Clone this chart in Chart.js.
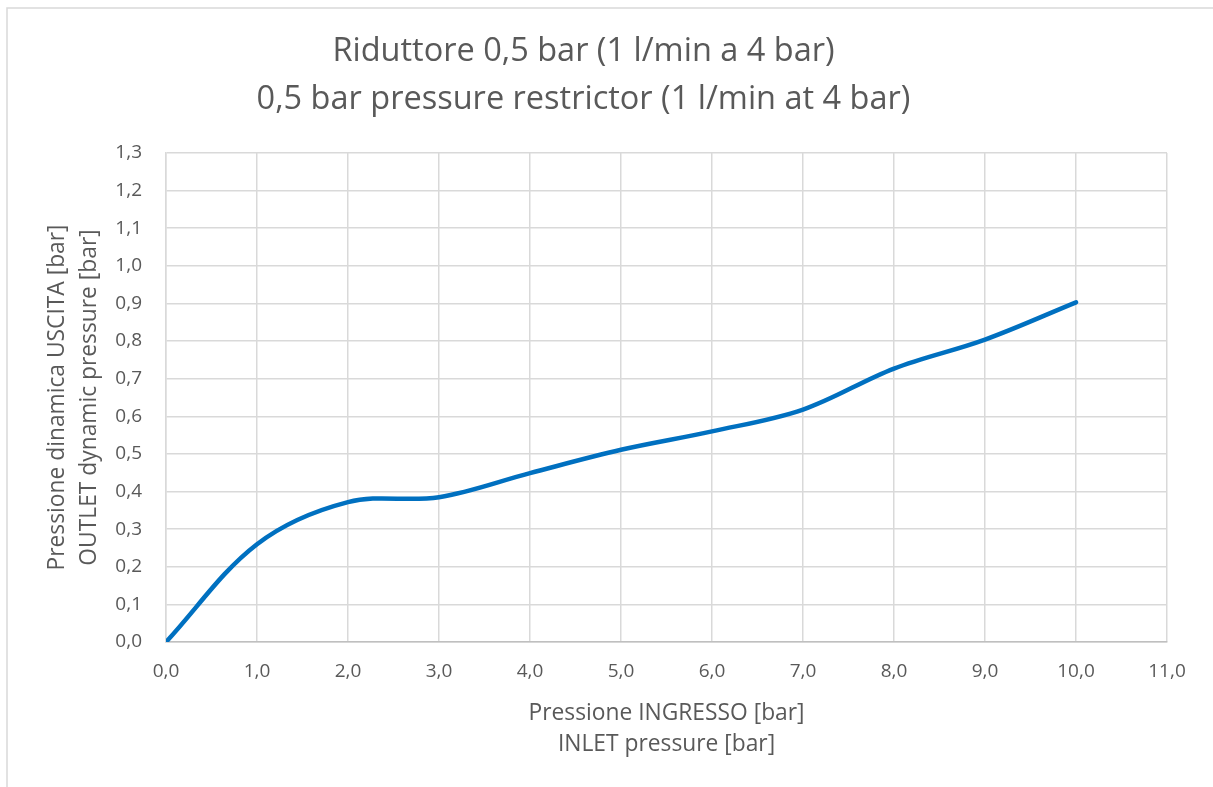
<!DOCTYPE html>
<html>
<head>
<meta charset="utf-8">
<script src="https://cdn.jsdelivr.net/npm/chart.js@4"></script>
<style>
  html, body { margin: 0; padding: 0; background: #fff; }
  #wrap { width: 1213px; height: 787px; position: relative; }
</style>
</head>
<body>
<div id="wrap"><canvas id="c" width="1213" height="787"></canvas></div>
<script>
// ---- data ----
const inletPressure = [0, 1, 2, 3, 4, 5, 6, 7, 8, 9, 10];
const outletPressure = [0, 0.26, 0.372, 0.385, 0.449, 0.511, 0.56, 0.618, 0.727, 0.804, 0.903];
const titleLines = ['Riduttore 0,5 bar (1 l/min a 4 bar)', '0,5 bar pressure restrictor (1 l/min at 4 bar)'];
const xTitleLines = ['Pressione INGRESSO [bar]', 'INLET pressure [bar]'];
const yTitleLines = ['Pressione dinamica USCITA [bar]', 'OUTLET dynamic pressure [bar]'];
const xTickLabels = ['0,0','1,0','2,0','3,0','4,0','5,0','6,0','7,0','8,0','9,0','10,0','11,0'];
const yTickLabels = ['0,0','0,1','0,2','0,3','0,4','0,5','0,6','0,7','0,8','0,9','1,0','1,1','1,2','1,3'];

const FONT = '"Open Sans", Lato, sans-serif';
const GRAY = '#595959';

const frame = {
  id: 'frame',
  beforeDraw(chart) {
    const ctx = chart.ctx;
    ctx.save();
    ctx.fillStyle = '#fff';
    ctx.fillRect(0, 0, chart.width, chart.height);
    ctx.strokeStyle = '#d9d9d9';
    ctx.lineWidth = 1.5;
    ctx.strokeRect(7, 8, 1400, 1000);
    ctx.restore();
  }
};

new Chart(document.getElementById('c'), {
  type: 'line',
  data: {
    datasets: [{
      data: inletPressure.map((x, i) => ({ x: x, y: outletPressure[i] })),
      borderColor: '#0070C0',
      borderWidth: 4.5,
      borderCapStyle: 'round',
      borderJoinStyle: 'round',
      pointRadius: 0,
      tension: 0.35,
      fill: false
    }]
  },
  options: {
    responsive: false,
    animation: false,
    devicePixelRatio: 1,
    layout: { padding: { left: 0, right: 46, top: 0, bottom: 0 } },
    plugins: {
      legend: { display: false },
      tooltip: { enabled: false },
      title: {
        display: true,
        text: titleLines,
        color: GRAY,
        font: { family: FONT, size: 32.5, weight: 'normal', lineHeight: 1.477 },
        padding: { top: 28, bottom: 29 }
      }
    },
    scales: {
      x: {
        type: 'linear',
        min: 0, max: 11,
        afterFit(scale) { scale.height = 145; },
        ticks: {
          stepSize: 1,
          color: GRAY,
          padding: 18,
          font: { family: FONT, size: 19 },
          callback: (v) => xTickLabels[Math.round(v)]
        },
        grid: { color: '#d9d9d9', lineWidth: 1.5, drawTicks: false },
        border: { color: '#bfbfbf', width: 1.5 },
        title: {
          display: true,
          text: xTitleLines,
          color: GRAY,
          font: { family: FONT, size: 22.8, lineHeight: 1.36 },
          padding: { top: 0, bottom: 27 }
        }
      },
      y: {
        type: 'linear',
        min: 0, max: 1.3,
        afterFit(scale) { scale.width = 166; },
        ticks: {
          stepSize: 0.1,
          color: GRAY,
          padding: 24,
          font: { family: FONT, size: 19 },
          callback: (v) => yTickLabels[Math.round(v * 10)]
        },
        grid: { color: '#d9d9d9', lineWidth: 1.5, drawTicks: false },
        border: { color: '#d9d9d9', width: 1.5 },
        title: {
          display: true,
          text: yTitleLines,
          color: GRAY,
          font: { family: FONT, size: 22.8, lineHeight: 1.4 },
          padding: { top: 42, bottom: 0 }
        }
      }
    }
  },
  plugins: [frame]
});
</script>
</body>
</html>
